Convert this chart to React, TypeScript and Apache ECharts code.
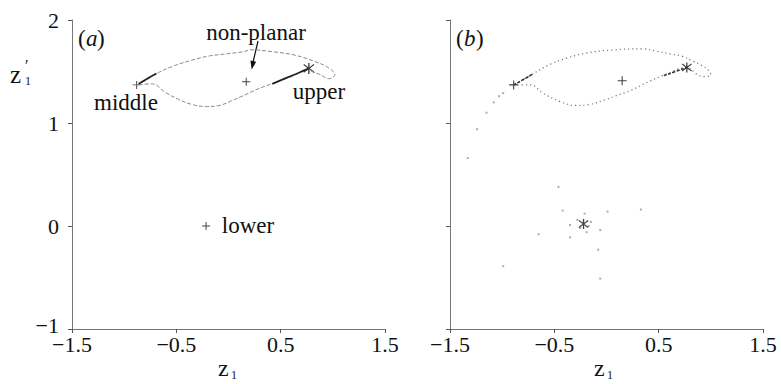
import React, { useEffect, useRef } from "react";
import * as echarts from "echarts";

// ---- data ----
const xTickValues = [-1.5, -0.5, 0.5, 1.5];
const yTickValues = [-1, 0, 1, 2];

// panel (a): periodic orbit loop (z1, z1')
const loopA: [number, number][] = [
  [-0.88, 1.37], [-0.8, 1.41], [-0.67, 1.49], [-0.51, 1.56], [-0.35, 1.61],
  [-0.19, 1.65], [-0.03, 1.67], [0.13, 1.69], [0.22, 1.71], [0.44, 1.69],
  [0.63, 1.66], [0.82, 1.6], [0.95, 1.54], [1.02, 1.47], [0.96, 1.43],
  [0.88, 1.47], [0.8, 1.5], [0.77, 1.52], [0.6, 1.45], [0.44, 1.39],
  [0.28, 1.33], [0.13, 1.26], [0.04, 1.22], [-0.09, 1.17], [-0.22, 1.16],
  [-0.35, 1.18], [-0.48, 1.23], [-0.61, 1.3], [-0.73, 1.38], [-0.88, 1.37],
];
const heavyMiddleA: [number, number][] = [[-0.86, 1.38], [-0.78, 1.43], [-0.69, 1.48]];
const heavyUpperA: [number, number][] = [[0.42, 1.38], [0.56, 1.44], [0.68, 1.49], [0.77, 1.53]];
const plusPointsA: [number, number][] = [[-0.88, 1.37], [0.17, 1.4], [-0.215, 0.0]];
const starPointsA: [number, number][] = [[0.77, 1.53]];

// panel (b)
const loopB: [number, number][] = [
  [-0.89, 1.37], [-0.7, 1.48], [-0.54, 1.57], [-0.38, 1.63], [-0.19, 1.68],
  [0.07, 1.71], [0.34, 1.72], [0.47, 1.7], [0.61, 1.67], [0.72, 1.65],
  [0.83, 1.6], [0.91, 1.56], [0.98, 1.51], [1.0, 1.47], [0.94, 1.45],
  [0.87, 1.47], [0.77, 1.54], [0.56, 1.47], [0.4, 1.4], [0.24, 1.32],
  [0.08, 1.26], [0.0, 1.23], [-0.16, 1.18], [-0.29, 1.17], [-0.45, 1.21],
  [-0.61, 1.29], [-0.73, 1.37], [-0.89, 1.37],
];
const heavyMiddleB: [number, number][] = [[-0.89, 1.37], [-0.8, 1.42], [-0.7, 1.48]];
const heavyUpperB: [number, number][] = [[0.55, 1.46], [0.66, 1.5], [0.77, 1.54]];
const scatterB: [number, number][] = [
  [-0.99, 1.29], [-1.03, 1.26], [-1.08, 1.2], [-1.15, 1.1], [-1.24, 0.94],
  [-1.33, 0.66], [-0.46, 0.38], [-0.42, 0.15], [-0.21, 0.12], [0.01, 0.14],
  [0.33, 0.16], [-0.28, 0.06], [-0.15, 0.04], [-0.35, 0.01], [-0.17, 0.0],
  [-0.25, -0.02], [-0.06, -0.04], [-0.19, -0.06], [-0.65, -0.08], [-0.35, -0.11],
  [-0.08, -0.23], [-0.99, -0.39], [-0.06, -0.51],
];
const plusPointsB: [number, number][] = [[-0.89, 1.37], [0.15, 1.41]];
const starPointsB: [number, number][] = [[0.77, 1.54], [-0.22, 0.02]];

const SERIF = "Liberation Serif, DejaVu Serif, Times New Roman, serif";
const PLUS = "path://M4.4,0H5.6V4.4H10V5.6H5.6V10H4.4V5.6H0V4.4H4.4Z";
const STAR =
  "path://M4.4,0H5.6V10H4.4Z M0.3,2.0L0.9,1.0L9.7,8.0L9.1,9.0Z M0.3,8.0L9.1,1.0L9.7,2.0L0.9,9.0Z";

const fmt = (v: number) => {
  const s = Number.isInteger(v) ? String(v) : v.toFixed(1);
  return s.replace("-", "\u2212");
};

function xAxis(gridIndex: number) {
  return {
    type: "value" as const,
    gridIndex,
    min: xTickValues[0],
    max: xTickValues[xTickValues.length - 1],
    interval: 1,
    axisLine: { show: true, onZero: false, lineStyle: { color: "#777", width: 1 } },
    axisTick: { show: true, inside: false, length: 4, lineStyle: { color: "#555" } },
    splitLine: { show: false },
    axisLabel: {
      show: true,
      margin: 5,
      color: "#111",
      fontFamily: SERIF,
      fontSize: 22,
      lineHeight: 20,
      formatter: fmt,
      showMinLabel: true,
      showMaxLabel: true,
    },
  };
}

function yAxis(gridIndex: number, labels: boolean) {
  return {
    type: "value" as const,
    gridIndex,
    min: yTickValues[0],
    max: yTickValues[yTickValues.length - 1],
    interval: 1,
    axisLine: { show: true, onZero: false, lineStyle: { color: "#777", width: 1 } },
    axisTick: { show: true, inside: false, length: 4, lineStyle: { color: "#555" } },
    splitLine: { show: false },
    axisLabel: {
      show: labels,
      margin: 13,
      color: "#111",
      fontFamily: SERIF,
      fontSize: 22,
      lineHeight: 20,
      formatter: (v: number) => (v === yTickValues[0] ? `{lo|${fmt(v)}}` : fmt(v)),
      rich: {
        lo: { fontFamily: SERIF, fontSize: 22, lineHeight: 18, padding: [0, 0, 8, 0], color: "#111" },
      },
    },
  };
}

export default function App() {
  const ref = useRef<HTMLDivElement>(null);
  useEffect(() => {
    if (!ref.current) return;
    const chart = echarts.init(ref.current, undefined, { renderer: "svg" });
    const txt = (x: number, y: number, text: string, size: number, extra: any = {}) => ({
      type: "text",
      x,
      y,
      style: {
        text,
        fontFamily: SERIF,
        fontSize: size,
        fontStyle: extra.italic ? "italic" : "normal",
        fill: "#111",
        align: extra.align || "center",
        verticalAlign: "middle",
      },
    });
    chart.setOption({
      animation: false,
      backgroundColor: "#fff",
      grid: [
        { left: 72, top: 20, width: 313, height: 309 },
        { left: 450, top: 20, width: 313, height: 309 },
      ],
      xAxis: [xAxis(0), xAxis(1)],
      yAxis: [yAxis(0, true), yAxis(1, false)],
      series: [
        { type: "line", xAxisIndex: 0, yAxisIndex: 0, data: loopA, smooth: 0.4, symbol: "none",
          lineStyle: { color: "#8a8a8a", width: 1, type: [4, 2] } },
        { type: "line", xAxisIndex: 0, yAxisIndex: 0, data: heavyMiddleA, smooth: true, symbol: "none",
          lineStyle: { color: "#222", width: 1.8 } },
        { type: "line", xAxisIndex: 0, yAxisIndex: 0, data: heavyUpperA, smooth: true, symbol: "none",
          lineStyle: { color: "#222", width: 1.8 } },
        { type: "scatter", xAxisIndex: 0, yAxisIndex: 0, data: plusPointsA, symbol: PLUS, symbolSize: 8,
          itemStyle: { color: "#111" } },
        { type: "scatter", xAxisIndex: 0, yAxisIndex: 0, data: starPointsA, symbol: STAR, symbolSize: 11,
          itemStyle: { color: "#111" } },
        { type: "line", xAxisIndex: 1, yAxisIndex: 1, data: loopB, smooth: 0.4, symbol: "none",
          lineStyle: { color: "#777", width: 1.2, type: [1.2, 3] } },
        { type: "line", xAxisIndex: 1, yAxisIndex: 1, data: heavyMiddleB, smooth: true, symbol: "none",
          lineStyle: { color: "#333", width: 1.6, type: [3, 1.5] } },
        { type: "line", xAxisIndex: 1, yAxisIndex: 1, data: heavyUpperB, smooth: true, symbol: "none",
          lineStyle: { color: "#333", width: 1.6, type: [3, 1.5] } },
        { type: "scatter", xAxisIndex: 1, yAxisIndex: 1, data: scatterB, symbol: "rect", symbolSize: 2,
          itemStyle: { color: "#999" } },
        { type: "scatter", xAxisIndex: 1, yAxisIndex: 1, data: plusPointsB, symbol: PLUS, symbolSize: 9,
          itemStyle: { color: "#111" } },
        { type: "scatter", xAxisIndex: 1, yAxisIndex: 1, data: starPointsB, symbol: STAR, symbolSize: 10,
          itemStyle: { color: "#111" } },
      ],
      graphic: [
        txt(78, 38, "(", 23, { align: "left" }),
        txt(86, 38, "a", 23, { align: "left", italic: true }),
        txt(97, 38, ")", 23, { align: "left" }),
        txt(456, 38, "(", 23, { align: "left" }),
        txt(464, 38, "b", 23, { align: "left", italic: true }),
        txt(476, 38, ")", 23, { align: "left" }),
        txt(256, 32, "non-planar", 23),
        txt(126, 102, "middle", 23),
        txt(319, 91, "upper", 23),
        txt(248, 225, "lower", 23),
        // y-axis name z1'
        txt(10, 74, "z", 25, { align: "left" }),
        txt(25, 65, "\u2032", 16, { align: "left" }),
        txt(25, 81, "1", 12, { align: "left" }),
        // x-axis names z1
        txt(218, 368, "z", 24, { align: "left" }),
        txt(231, 375, "1", 12, { align: "left" }),
        txt(594, 368, "z", 24, { align: "left" }),
        txt(607, 375, "1", 12, { align: "left" }),
        // arrow from "non-planar" label to the fixed point
        { type: "line", shape: { x1: 258, y1: 41, x2: 252.6, y2: 64 },
          style: { stroke: "#111", lineWidth: 1.2 } },
        { type: "polygon", shape: { points: [[256.2, 61.8], [250.4, 60.6], [251.7, 69.5]] },
          style: { fill: "#111" } },
      ],
    });
    return () => chart.dispose();
  }, []);
  return (
    <div
      ref={ref}
      style={{ position: "fixed", left: 0, top: 0, width: 781, height: 384, background: "#fff" }}
    />
  );
}
